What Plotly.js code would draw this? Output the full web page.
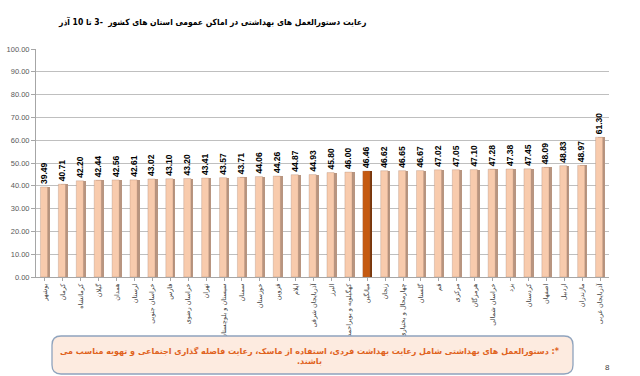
<!DOCTYPE html>
<html>
<head>
<meta charset="utf-8">
<script src="https://cdn.plot.ly/plotly-3.0.1.min.js"></script>
<style>html,body{margin:0;padding:0;background:#fff;}#chart{width:640px;height:376px;}</style>
</head>
<body>
<div id="chart"></div>
<script>
const provinces = ["بوشهر","کرمان","کرمانشاه","گیلان","همدان","لرستان","خراسان جنوبی","فارس","خراسان رضوی","تهران","سیستان و بلوچستان","سمنان","خوزستان","قزوین","ایلام","آذربایجان شرقی","البرز","کهگیلویه و بویراحمد","میانگین","زنجان","چهارمحال و بختیاری","گلستان","قم","مرکزی","هرمزگان","خراسان شمالی","یزد","کردستان","اصفهان","اردبیل","مازندران","آذربایجان غربی"];
const values = [39.49,40.71,42.20,42.44,42.56,42.61,43.02,43.10,43.20,43.41,43.57,43.71,44.06,44.26,44.87,44.93,45.80,46.00,46.46,46.62,46.65,46.67,47.02,47.05,47.10,47.28,47.38,47.45,48.09,48.83,48.97,61.30];
const yTicks = [0,10,20,30,40,50,60,70,80,90,100];
const RLM = "\u200F";
const titleText = RLM + "رعایت دستورالعمل های بهداشتی در اماکن عمومی استان های کشور  -3 تا 10 آذر" + RLM;
const noteLines = ["*: دستورالعمل های بهداشتی شامل رعایت بهداشت فردی، استفاده از ماسک، رعایت فاصله گذاری اجتماعی و تهویه مناسب می", "باشند."];
const pageNumber = "8";
const meanLabel = "میانگین";

const idx = provinces.map((_, i) => i);
const frontColors = provinces.map(p => p === meanLabel ? "#c55a11" : "#f8cbad");
const sideColors = provinces.map(p => p === meanLabel ? "#7a360a" : "#b89580");

const shadow = {
  type: "bar", x: idx, y: values, width: 0.42, offset: -0.13,
  marker: {color: sideColors, line: {width: 0}},
  hoverinfo: "skip", showlegend: false
};
const front = {
  type: "bar", x: idx, y: values, width: 0.4, offset: -0.25,
  marker: {color: frontColors, line: {width: 0.5, color: "rgba(150,110,90,0.5)"}},
  text: values.map(v => v.toFixed(2)), textposition: "outside", textangle: -90,
  constraintext: "none", cliponaxis: false,
  textfont: {family: "Liberation Sans, Arial, sans-serif", size: 8.5, color: "#000", weight: "bold"},
  showlegend: false
};

const W = 573, H = 228;
const px = v => (v - 36) / W, py = v => (277 - v) / H;
const x0 = px(52), x1 = px(573), yT = py(336), yB = py(374);
const rx = 9/W, ry = 9/H;
const path = `M ${x0+rx},${yT} L ${x1-rx},${yT} Q ${x1},${yT} ${x1},${yT-ry} L ${x1},${yB+ry} Q ${x1},${yB} ${x1-rx},${yB} L ${x0+rx},${yB} Q ${x0},${yB} ${x0},${yB+ry} L ${x0},${yT-ry} Q ${x0},${yT} ${x0+rx},${yT} Z`;

const layout = {
  width: 640, height: 376,
  margin: {l: 36, r: 31, t: 49, b: 99},
  paper_bgcolor: "#fff", plot_bgcolor: "#fff",
  barmode: "overlay",
  bargap: 0,
  xaxis: {
    range: [-0.5, provinces.length - 0.5],
    tickmode: "array", tickvals: idx, ticktext: provinces, tickangle: -90,
    tickfont: {family: "DejaVu Sans, sans-serif", size: 6.5, color: "#404040"},
    showgrid: false, showline: true, linecolor: "#a6a6a6", linewidth: 1,
    ticks: "outside", ticklen: 3, tickcolor: "#a6a6a6", zeroline: false, fixedrange: true
  },
  yaxis: {
    range: [0, 100], tickmode: "array", tickvals: yTicks,
    ticktext: yTicks.map(v => v.toFixed(2)),
    tickfont: {family: "Liberation Sans, Arial, sans-serif", size: 7.5, color: "#595959"},
    showgrid: true, gridcolor: "#bfbfbf", gridwidth: 1,
    showline: true, linecolor: "#a6a6a6", ticks: "outside", ticklen: 4, tickcolor: "#a6a6a6",
    zeroline: false, fixedrange: true
  },
  shapes: [{
    type: "path", xref: "paper", yref: "paper", path: path,
    fillcolor: "#fdebe0", line: {color: "#8fa3bd", width: 1.3}
  }],
  annotations: [
    {text: titleText, xref: "paper", yref: "paper", x: px(368), y: py(22),
     xanchor: "right", yanchor: "middle", showarrow: false,
     font: {family: "DejaVu Sans Condensed, DejaVu Sans, sans-serif", size: 8.5, color: "#000", weight: "bold"}},
    {text: noteLines.map(l => RLM + l + RLM).join("<br>"), xref: "paper", yref: "paper", x: px(310), y: py(355.5),
     xanchor: "center", yanchor: "middle", showarrow: false, align: "center",
     font: {family: "DejaVu Sans, sans-serif", size: 8, color: "#e0621c", weight: "bold"}},
    {text: pageNumber, xref: "paper", yref: "paper", x: px(607), y: py(367),
     xanchor: "center", yanchor: "middle", showarrow: false,
     font: {family: "Liberation Sans, Arial, sans-serif", size: 8, color: "#404040"}}
  ]
};

Plotly.newPlot("chart", [shadow, front], layout, {displayModeBar: false, staticPlot: true});
</script>
</body>
</html>
